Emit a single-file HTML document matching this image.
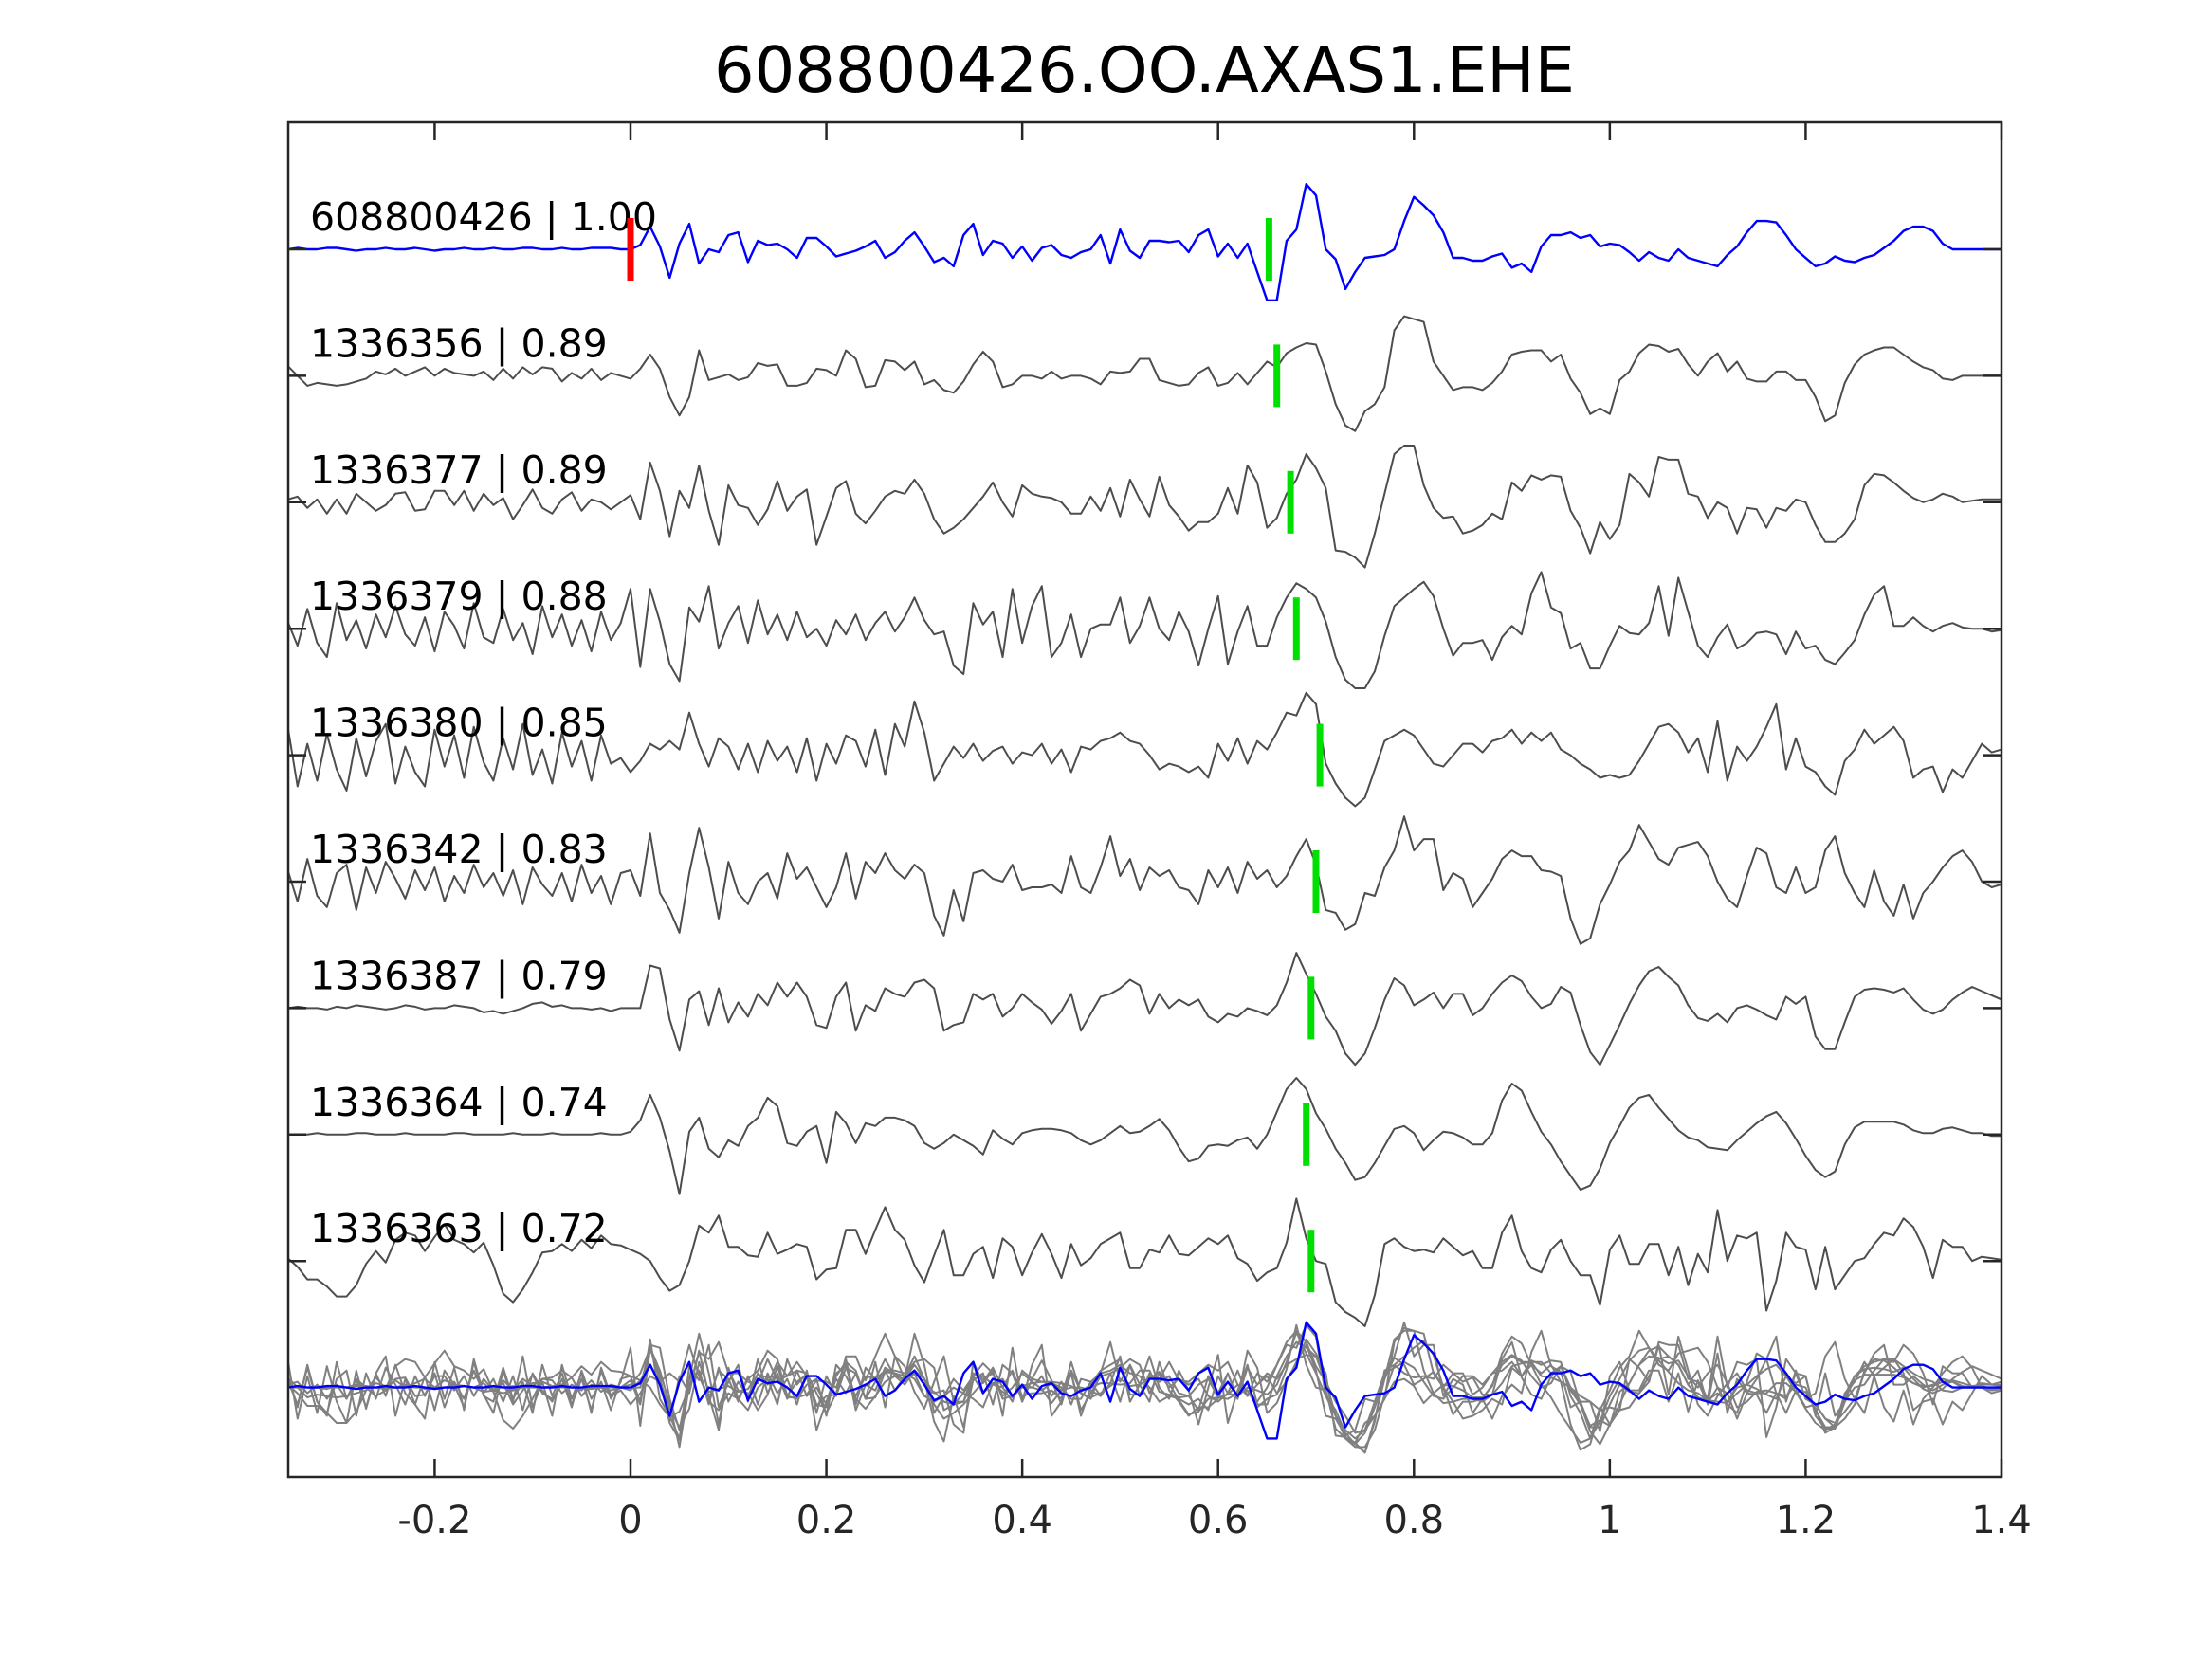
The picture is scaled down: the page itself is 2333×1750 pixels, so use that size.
<!DOCTYPE html>
<html>
<head>
<meta charset="utf-8">
<style>
html,body{margin:0;padding:0;background:#fff;}
svg{display:block;}
text{font-family:"DejaVu Sans","Liberation Sans",sans-serif;}
</style>
</head>
<body>
<svg id="chart" width="2333" height="1750" viewBox="0 0 2333 1750" xmlns="http://www.w3.org/2000/svg">
<rect x="0" y="0" width="2333" height="1750" fill="#fff"/>
<text x="1207" y="97" text-anchor="middle" font-size="67" fill="#000">608800426.OO.AXAS1.EHE</text>
<g id="plot"></g>
</svg>
<script>
const tStart = -0.35;
const tStep = 0.01;
const xTicks = [-0.2, 0, 0.2, 0.4, 0.6, 0.8, 1, 1.2, 1.4];
const xTickLabels = ["-0.2", "0", "0.2", "0.4", "0.6", "0.8", "1", "1.2", "1.4"];
const traceIds = ["608800426", "1336356", "1336377", "1336379", "1336380", "1336342", "1336387", "1336364", "1336363"];
const traceCorr = ["1.00", "0.89", "0.89", "0.88", "0.85", "0.83", "0.79", "0.74", "0.72"];
const pickTimes = [0.652, 0.660, 0.674, 0.680, 0.704, 0.700, 0.695, 0.690, 0.695];
const originTime = 0;

const tr0 = [0,1,0,0,1,1,0,-1,0,0,1,0,0,1,0,-1,0,0,1,0,0,1,0,0,1,1,0,0,1,0,0,1,1,1,0,
0,3,16,2,-20,4,18,-10,0,-2,10,12,-9,6,3,4,0,-6,8,8,2,-5,-3,-1,2,6,-6,-2,6,12,2,-9,-6,-12,10,18,-4,6,4,-6,2,-8,1,3,-4,-6,-2,0,10,-10,14,-1,-6,6,6,5,6,-2,10,14,-5,4,-6,4,-16,-36,-36,6,14,46,38,0,-7,-28,-16,-6,-5,-4,0,20,37,31,24,12,-6,-6,-8,-8,-5,-3,-13,-10,-16,2,10,10,12,8,10,2,4,3,-2,-8,-2,-6,-8,0,-6,-8,-10,-12,-4,2,12,20,20,19,10,0,-6,-12,-10,-5,-8,-9,-6,-4,1,6,13,16,16,13,4,0,0,0,0,0,0];
const tr1 = [7,0,-7,-5,-6,-7,-6,-4,-2,3,1,5,0,3,6,0,5,2,1,0,3,-3,5,-2,6,1,6,5,-4,2,-2,5,-3,2,0,
-2,5,15,5,-15,-28,-15,18,-3,-1,1,-3,-1,9,7,8,-7,-7,-5,5,4,0,18,12,-8,-7,11,10,4,10,-6,-3,-10,-12,-4,8,17,10,-8,-6,0,0,-2,3,-2,0,0,-2,-6,3,2,3,12,12,-3,-5,-7,-6,2,6,-7,-5,2,-6,2,10,6,16,20,23,22,3,-20,-35,-39,-25,-20,-8,32,42,40,38,10,0,-10,-8,-8,-10,-5,3,15,17,18,18,10,15,-2,-12,-27,-23,-27,-3,3,16,22,21,17,19,8,0,10,16,3,10,-2,-4,-4,3,3,-3,-3,-15,-32,-28,-5,8,15,18,20,20,15,10,6,4,-2,-3,0,0,0,0,0];
const tr2 = [2,4,-4,2,-8,2,-8,6,0,-6,-2,6,7,-6,-5,8,8,-2,8,-6,6,-2,3,-12,-2,9,-4,-8,2,7,-6,2,0,-5,0,
5,-12,28,8,-24,8,-4,26,-6,-30,12,-2,-4,-16,-5,15,-6,4,9,-30,-10,10,15,-8,-15,-6,4,8,6,16,6,-12,-22,-18,-12,-4,4,14,0,-10,12,6,4,3,0,-8,-8,4,-6,10,-10,16,2,-10,18,-2,-10,-20,-14,-14,-8,10,-8,26,14,-18,-11,6,16,34,24,10,-34,-35,-39,-46,-22,6,34,40,40,12,-4,-11,-10,-22,-20,-16,-8,-12,14,8,19,16,19,18,-6,-18,-36,-14,-26,-16,20,14,4,32,30,30,6,4,-11,0,-4,-22,-4,-5,-18,-4,-6,2,0,-16,-28,-28,-22,-12,12,20,19,14,8,3,0,2,6,4,0,1,2,2,2];
const tr3 = [5,-12,14,-10,-20,18,-8,6,-14,10,-6,16,-4,-12,8,-16,12,2,-14,18,-6,-10,14,-8,4,-18,16,-6,10,-12,6,-16,12,-8,4,
28,-27,28,5,-25,-37,15,5,30,-14,4,16,-10,20,-4,10,-8,12,-6,0,-12,6,-4,10,-8,4,12,-2,8,22,6,-4,-2,-26,-32,18,3,12,-20,28,-10,16,30,-20,-10,10,-20,0,3,3,22,-10,2,22,0,-8,12,-2,-26,0,23,-25,-2,16,-12,-12,8,22,32,28,22,5,-20,-36,-42,-42,-30,-5,16,22,28,33,23,0,-19,-10,-10,-8,-22,-6,2,-4,25,40,15,11,-14,-10,-28,-28,-12,2,-3,-4,4,30,-5,36,12,-12,-20,-6,3,-14,-10,-3,-2,-4,-18,-2,-14,-12,-22,-25,-17,-8,10,24,30,2,2,8,2,-2,2,4,1,0,0,-2,-1];
const tr4 = [20,-22,8,-18,15,-10,-25,12,-15,10,22,-20,6,-12,-22,18,-8,14,-16,20,-5,-18,12,-10,22,-14,4,-20,16,-8,10,-18,14,-6,-2,
-12,-4,8,4,10,4,30,8,-8,12,6,-10,8,-12,10,-4,6,-12,12,-18,8,-6,14,10,-8,18,-14,22,6,38,16,-18,-6,6,-2,8,-4,3,6,-6,2,0,8,-6,4,-12,6,4,10,12,16,10,8,0,-10,-6,-8,-12,-8,-16,8,-4,12,-6,10,4,16,30,28,44,36,-6,-20,-30,-36,-30,-10,10,14,18,14,4,-6,-8,0,8,8,2,10,12,18,8,16,10,16,4,0,-6,-10,-16,-14,-16,-14,-4,8,20,22,16,2,12,-12,24,-18,6,-4,6,20,36,-10,12,-8,-12,-22,-28,-4,4,18,8,14,20,10,-16,-10,-8,-26,-10,-16,-4,8,2,4];
const tr5 = [8,-14,16,-10,-18,6,12,-20,10,-8,14,2,-12,8,-6,10,-14,4,-8,12,-4,6,-10,8,-16,10,-2,-10,6,-14,12,-8,4,-16,6,
8,-10,34,-8,-20,-36,6,38,10,-26,14,-8,-16,0,6,-12,20,2,10,-4,-18,-4,20,-12,14,6,20,8,2,12,6,-24,-38,-6,-28,6,8,2,0,12,-6,-4,-4,-2,-8,18,-4,-8,10,32,4,16,-6,10,4,8,-4,-6,-16,8,-4,10,-8,14,2,8,-4,4,18,30,12,-20,-22,-34,-30,-8,-10,10,22,46,22,30,30,-6,6,2,-18,-8,2,16,22,18,18,8,7,4,-26,-44,-40,-16,-2,14,22,40,28,16,12,24,26,28,18,0,-12,-18,4,24,20,-4,-8,10,-8,-4,22,32,6,-8,-18,8,-14,-24,-2,-26,-8,0,10,18,22,14,0,-4,-2];
const tr6 = [0,1,0,0,-1,1,0,2,1,0,-1,0,2,1,-1,0,0,2,1,0,-3,-2,-4,-2,0,3,4,1,2,0,0,-1,0,-2,0,
0,0,30,28,-8,-30,6,12,-12,14,-10,4,-6,10,2,18,8,18,8,-12,-14,8,18,-16,2,-2,14,10,8,18,20,14,-16,-12,-10,10,6,10,-6,0,10,4,-1,-11,-2,10,-16,-4,8,10,14,20,16,-4,10,0,6,2,6,-6,-10,-4,-6,0,-2,-5,2,18,39,24,10,-6,-16,-32,-40,-32,-14,6,21,16,2,6,11,0,10,10,-5,0,10,18,23,19,8,0,3,15,11,-12,-31,-40,-26,-12,3,16,26,29,22,16,2,-7,-9,-4,-10,0,2,-1,-5,-8,8,3,8,-20,-29,-29,-10,8,13,14,13,11,14,6,-1,-4,-1,6,11,15,12,9,6];
const tr7 = [0,0,0,1,0,0,0,1,1,0,0,0,1,0,0,0,0,1,1,0,0,0,0,1,0,0,0,1,0,0,0,0,1,0,0,
2,10,28,12,-12,-42,2,12,-10,-16,-4,-8,6,12,26,20,-6,-8,2,6,-20,16,8,-6,8,6,12,12,10,6,-6,-10,-6,0,-4,-8,-14,3,-3,-7,1,3,4,4,3,1,-4,-7,-4,1,6,1,2,6,11,3,-9,-19,-17,-8,-7,-8,-4,-2,-10,0,16,32,40,32,15,4,-10,-20,-32,-30,-20,-8,4,6,1,-11,-4,2,1,-2,-7,-7,1,24,36,31,16,2,-7,-19,-29,-39,-36,-24,-6,6,19,26,28,19,11,3,-2,-4,-9,-10,-11,-4,2,8,13,16,8,-3,-15,-25,-30,-26,-7,5,9,9,9,9,7,3,1,1,4,5,3,1,1,-1,-1];
const tr8 = [2,-4,-13,-13,-18,-25,-25,-17,-2,7,-1,15,20,18,7,17,26,15,12,6,13,-3,-23,-29,-20,-8,6,7,12,7,15,9,18,12,11,
8,5,0,-12,-21,-17,0,25,20,32,10,10,4,3,20,5,8,12,10,-13,-6,-5,22,22,5,22,38,22,15,-3,-15,4,22,-10,-10,5,10,-12,16,10,-10,6,19,5,-12,12,-3,2,12,16,20,-5,-5,8,6,18,5,4,10,16,12,18,2,-2,-14,-8,-5,13,44,16,0,-2,-29,-36,-40,-46,-24,12,16,10,7,8,6,16,10,4,7,-5,-5,20,32,7,-5,-8,8,15,0,-10,-10,-31,8,18,-2,-2,12,12,-10,10,-17,5,-8,36,0,18,16,20,-35,-14,20,10,8,-20,10,-20,-10,0,2,12,20,18,30,24,10,-12,15,10,10,0,3,2,1];
const traces = [tr0, tr1, tr2, tr3, tr4, tr5, tr6, tr7, tr8];

// geometry
const AX_L = 304, AX_R = 2111, AX_T = 129, AX_B = 1558;
const X0 = 665, PPU = (AX_R - X0) / 1.4;
const BASE0 = 263, GAP = 133.4;
const AMP = 1.4955;
function xs(t){ return X0 + t * PPU; }
function baseY(k){ return BASE0 + GAP * k; }
function ys(v, k){ return baseY(k) - v * AMP; }

const NS = "http://www.w3.org/2000/svg";
const plot = document.getElementById('plot');
function mk(tag, attrs){
  const el = document.createElementNS(NS, tag);
  for (const a in attrs) el.setAttribute(a, attrs[a]);
  return el;
}
function pathFor(arr, k){
  let d = '';
  for (let i = 0; i < arr.length; i++){
    const t = tStart + i * tStep;
    d += (i ? 'L' : 'M') + xs(t).toFixed(1) + ',' + ys(arr[i], k).toFixed(1);
  }
  return d;
}

const defs = mk('defs', {});
const cp = mk('clipPath', {id: 'axclip'});
cp.appendChild(mk('rect', {x: AX_L, y: AX_T, width: AX_R - AX_L, height: AX_B - AX_T}));
defs.appendChild(cp);
plot.appendChild(defs);

const g = mk('g', {'clip-path': 'url(#axclip)'});
plot.appendChild(g);

traces.forEach((arr, k) => {
  const p = mk('path', {d: pathFor(arr, k), fill: 'none', stroke: k === 0 ? '#0000ff' : '#4d4d4d', 'stroke-width': k === 0 ? 2.4 : 2, 'stroke-linejoin': 'round'});
  
  
  g.appendChild(p);
});

const STACK = 9;
for (let k = 1; k < traces.length; k++){
  const p = mk('path', {d: pathFor(traces[k], STACK), fill: 'none', stroke: '#808080', 'stroke-width': 2, 'stroke-linejoin': 'round'});
  
  
  g.appendChild(p);
}
const sb = mk('path', {d: pathFor(traces[0], STACK), fill: 'none', stroke: '#0000ff', 'stroke-width': 2.4, 'stroke-linejoin': 'round'});


g.appendChild(sb);

traces.forEach((arr, k) => {
  const tx = mk('text', {x: 327, y: (baseY(k) - 20).toFixed(1), 'font-size': 41, fill: '#000'});
  tx.textContent = traceIds[k] + ' | ' + traceCorr[k];
  
  
  plot.appendChild(tx);
});

const rb = mk('rect', {x: (xs(originTime) - 3.5).toFixed(1), y: baseY(0) - 33, width: 7, height: 66, fill: '#ff0000'});


plot.appendChild(rb);

pickTimes.forEach((t, k) => {
  const b = mk('rect', {x: (xs(t) - 3.5).toFixed(1), y: baseY(k) - 33, width: 7, height: 66, fill: '#00e000'});
  
  
  plot.appendChild(b);
});

const box = mk('rect', {x: AX_L, y: AX_T, width: AX_R - AX_L, height: AX_B - AX_T, fill: 'none', stroke: '#262626', 'stroke-width': 2.5});


plot.appendChild(box);

xTicks.forEach((t, i) => {
  const x = xs(t);
  const tb = mk('line', {x1: x, x2: x, y1: AX_B, y2: AX_B - 19, stroke: '#262626', 'stroke-width': 2.5});
  
  
  plot.appendChild(tb);
  const tt = mk('line', {x1: x, x2: x, y1: AX_T, y2: AX_T + 19, stroke: '#262626', 'stroke-width': 2.5});
  
  
  plot.appendChild(tt);
  const lb = mk('text', {x: x, y: 1617, 'text-anchor': 'middle', 'font-size': 40, fill: '#262626'});
  lb.textContent = xTickLabels[i];
  
  
  plot.appendChild(lb);
});

for (let k = 0; k < traces.length; k++){
  const y = baseY(k);
  const l = mk('line', {x1: AX_L, x2: AX_L + 19, y1: y, y2: y, stroke: '#262626', 'stroke-width': 2.5});
  
  
  plot.appendChild(l);
  const r = mk('line', {x1: AX_R, x2: AX_R - 19, y1: y, y2: y, stroke: '#262626', 'stroke-width': 2.5});
  
  
  plot.appendChild(r);
}
</script>
</body>
</html>
